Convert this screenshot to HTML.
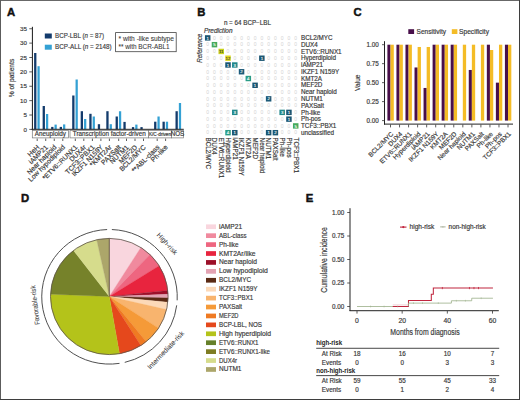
<!DOCTYPE html><html><head><meta charset="utf-8"><style>html,body{margin:0;padding:0;background:#fff;}svg{display:block;font-family:"Liberation Sans",sans-serif;}</style></head><body>
<svg width="520" height="400" viewBox="0 0 520 400">
<rect x="0" y="0" width="520" height="400" fill="#fff"/>
<text x="6.90" y="16.20" font-size="11.3" fill="#111" font-weight="bold" stroke="#111" stroke-width="0.45">A</text>
<text x="197.30" y="16.30" font-size="11.3" fill="#111" font-weight="bold" stroke="#111" stroke-width="0.45">B</text>
<text x="353.60" y="16.40" font-size="11.3" fill="#111" font-weight="bold" stroke="#111" stroke-width="0.45">C</text>
<text x="20.90" y="201.90" font-size="11.3" fill="#111" font-weight="bold" stroke="#111" stroke-width="0.45">D</text>
<text x="305.80" y="202.10" font-size="11.3" fill="#111" font-weight="bold" stroke="#111" stroke-width="0.45">E</text>
<rect x="31.90" y="26.80" width="1.00" height="103.00" fill="#1a1a1a" />
<line x1="29.30" y1="129.40" x2="32.00" y2="129.40" stroke="#333" stroke-width="0.8" />
<text x="27.00" y="131.60" font-size="6.2" fill="#3a3a3a" stroke="#3a3a3a" stroke-width="0.18" text-anchor="end" >0</text>
<line x1="29.30" y1="115.02" x2="32.00" y2="115.02" stroke="#333" stroke-width="0.8" />
<text x="27.00" y="117.22" font-size="6.2" fill="#3a3a3a" stroke="#3a3a3a" stroke-width="0.18" text-anchor="end" >5</text>
<line x1="29.30" y1="100.64" x2="32.00" y2="100.64" stroke="#333" stroke-width="0.8" />
<text x="27.00" y="102.84" font-size="6.2" fill="#3a3a3a" stroke="#3a3a3a" stroke-width="0.18" text-anchor="end" >10</text>
<line x1="29.30" y1="86.26" x2="32.00" y2="86.26" stroke="#333" stroke-width="0.8" />
<text x="27.00" y="88.46" font-size="6.2" fill="#3a3a3a" stroke="#3a3a3a" stroke-width="0.18" text-anchor="end" >15</text>
<line x1="29.30" y1="71.88" x2="32.00" y2="71.88" stroke="#333" stroke-width="0.8" />
<text x="27.00" y="74.08" font-size="6.2" fill="#3a3a3a" stroke="#3a3a3a" stroke-width="0.18" text-anchor="end" >20</text>
<line x1="29.30" y1="57.50" x2="32.00" y2="57.50" stroke="#333" stroke-width="0.8" />
<text x="27.00" y="59.70" font-size="6.2" fill="#3a3a3a" stroke="#3a3a3a" stroke-width="0.18" text-anchor="end" >25</text>
<line x1="29.30" y1="43.12" x2="32.00" y2="43.12" stroke="#333" stroke-width="0.8" />
<text x="27.00" y="45.32" font-size="6.2" fill="#3a3a3a" stroke="#3a3a3a" stroke-width="0.18" text-anchor="end" >30</text>
<line x1="29.30" y1="28.74" x2="32.00" y2="28.74" stroke="#333" stroke-width="0.8" />
<text x="27.00" y="30.94" font-size="6.2" fill="#3a3a3a" stroke="#3a3a3a" stroke-width="0.18" text-anchor="end" >35</text>
<text x="14.10" y="78.00" font-size="8.0" fill="#3a3a3a" stroke="#3a3a3a" stroke-width="0.18" text-anchor="middle" transform="rotate(-90 14.10 78.00)" textLength="38.4" lengthAdjust="spacingAndGlyphs" >% of patients</text>
<rect x="34.10" y="53.00" width="2.30" height="76.30" fill="#133b6c" />
<rect x="37.45" y="66.20" width="2.25" height="63.10" fill="#34a1d4" />
<rect x="42.63" y="106.00" width="2.30" height="23.30" fill="#133b6c" />
<rect x="45.98" y="114.00" width="2.25" height="15.30" fill="#34a1d4" />
<rect x="51.16" y="126.90" width="2.30" height="2.40" fill="#133b6c" />
<rect x="54.51" y="124.60" width="2.25" height="4.70" fill="#34a1d4" />
<rect x="59.69" y="126.90" width="2.30" height="2.40" fill="#133b6c" />
<rect x="63.04" y="124.40" width="2.25" height="4.90" fill="#34a1d4" />
<rect x="72.20" y="95.50" width="2.30" height="33.80" fill="#133b6c" />
<rect x="75.55" y="79.50" width="2.25" height="49.80" fill="#34a1d4" />
<rect x="80.70" y="111.20" width="2.30" height="18.10" fill="#133b6c" />
<rect x="84.05" y="119.00" width="2.25" height="10.30" fill="#34a1d4" />
<rect x="89.30" y="113.80" width="2.30" height="15.50" fill="#133b6c" />
<rect x="92.65" y="116.50" width="2.25" height="12.80" fill="#34a1d4" />
<rect x="97.80" y="124.20" width="2.30" height="5.10" fill="#133b6c" />
<rect x="106.30" y="111.20" width="2.30" height="18.10" fill="#133b6c" />
<rect x="109.65" y="124.20" width="2.25" height="5.10" fill="#34a1d4" />
<rect x="115.60" y="116.50" width="2.30" height="12.80" fill="#133b6c" />
<rect x="118.95" y="111.25" width="2.25" height="18.05" fill="#34a1d4" />
<rect x="123.40" y="121.90" width="2.30" height="7.40" fill="#133b6c" />
<rect x="131.90" y="127.10" width="2.30" height="2.20" fill="#133b6c" />
<rect x="135.25" y="124.60" width="2.25" height="4.70" fill="#34a1d4" />
<rect x="140.40" y="127.10" width="2.30" height="2.20" fill="#133b6c" />
<rect x="154.10" y="121.70" width="2.30" height="7.60" fill="#133b6c" />
<rect x="157.45" y="116.50" width="2.25" height="12.80" fill="#34a1d4" />
<rect x="162.50" y="121.70" width="2.30" height="7.60" fill="#133b6c" />
<rect x="165.85" y="121.70" width="2.25" height="7.60" fill="#34a1d4" />
<rect x="175.50" y="111.20" width="2.30" height="18.10" fill="#133b6c" />
<rect x="178.85" y="103.00" width="2.25" height="26.30" fill="#34a1d4" />
<rect x="31.60" y="128.80" width="152.20" height="1.00" fill="#222" />
<rect x="32.30" y="130.4" width="36.20" height="7.5" fill="#fff" stroke="#777" stroke-width="0.7"/>
<text x="50.40" y="136.42" font-size="6.3" fill="#3a3a3a" stroke="#3a3a3a" stroke-width="0.18" text-anchor="middle" >Aneuploidy</text>
<rect x="70.00" y="130.4" width="78.50" height="7.5" fill="#fff" stroke="#777" stroke-width="0.7"/>
<text x="109.25" y="136.42" font-size="6.3" fill="#3a3a3a" stroke="#3a3a3a" stroke-width="0.18" text-anchor="middle" >Transcription factor-driven</text>
<rect x="148.50" y="130.4" width="23.00" height="7.5" fill="#fff" stroke="#777" stroke-width="0.7"/>
<text x="160.00" y="135.84" font-size="4.7" fill="#3a3a3a" stroke="#3a3a3a" stroke-width="0.18" text-anchor="middle" >K/C-driven</text>
<rect x="171.50" y="130.4" width="12.00" height="7.5" fill="#fff" stroke="#777" stroke-width="0.7"/>
<text x="177.50" y="136.42" font-size="6.3" fill="#3a3a3a" stroke="#3a3a3a" stroke-width="0.18" text-anchor="middle" >NOS</text>
<line x1="37.20" y1="138.60" x2="37.20" y2="141.00" stroke="#333" stroke-width="0.8" />
<text x="39.90" y="147.70" font-size="6.8" fill="#3a3a3a" stroke="#3a3a3a" stroke-width="0.18" text-anchor="end" transform="rotate(-45 39.90 147.70)" >HeH</text>
<line x1="45.73" y1="138.60" x2="45.73" y2="141.00" stroke="#333" stroke-width="0.8" />
<text x="48.43" y="147.70" font-size="6.8" fill="#3a3a3a" stroke="#3a3a3a" stroke-width="0.18" text-anchor="end" transform="rotate(-45 48.43 147.70)" >iAMP21</text>
<line x1="54.26" y1="138.60" x2="54.26" y2="141.00" stroke="#333" stroke-width="0.8" />
<text x="56.96" y="147.70" font-size="6.8" fill="#3a3a3a" stroke="#3a3a3a" stroke-width="0.18" text-anchor="end" transform="rotate(-45 56.96 147.70)" >Near haploid</text>
<line x1="62.79" y1="138.60" x2="62.79" y2="141.00" stroke="#333" stroke-width="0.8" />
<text x="65.49" y="147.70" font-size="6.8" fill="#3a3a3a" stroke="#3a3a3a" stroke-width="0.18" text-anchor="end" transform="rotate(-45 65.49 147.70)" >Low hypodiploid</text>
<line x1="75.30" y1="138.60" x2="75.30" y2="141.00" stroke="#333" stroke-width="0.8" />
<text x="78.00" y="147.70" font-size="6.8" fill="#3a3a3a" stroke="#3a3a3a" stroke-width="0.18" text-anchor="end" transform="rotate(-45 78.00 147.70)" >*ETV6::RUNX1</text>
<line x1="83.80" y1="138.60" x2="83.80" y2="141.00" stroke="#333" stroke-width="0.8" />
<text x="86.50" y="147.70" font-size="6.8" fill="#3a3a3a" stroke="#3a3a3a" stroke-width="0.18" text-anchor="end" transform="rotate(-45 86.50 147.70)" >DUX4r</text>
<line x1="92.40" y1="138.60" x2="92.40" y2="141.00" stroke="#333" stroke-width="0.8" />
<text x="95.10" y="147.70" font-size="6.8" fill="#3a3a3a" stroke="#3a3a3a" stroke-width="0.18" text-anchor="end" transform="rotate(-45 95.10 147.70)" >TCF3::PBX1</text>
<line x1="100.90" y1="138.60" x2="100.90" y2="141.00" stroke="#333" stroke-width="0.8" />
<text x="103.60" y="147.70" font-size="6.8" fill="#3a3a3a" stroke="#3a3a3a" stroke-width="0.18" text-anchor="end" transform="rotate(-45 103.60 147.70)" >IKZF1 N159Y</text>
<line x1="109.40" y1="138.60" x2="109.40" y2="141.00" stroke="#333" stroke-width="0.8" />
<text x="112.10" y="147.70" font-size="6.8" fill="#3a3a3a" stroke="#3a3a3a" stroke-width="0.18" text-anchor="end" transform="rotate(-45 112.10 147.70)" >*KMT2Ar</text>
<line x1="118.70" y1="138.60" x2="118.70" y2="141.00" stroke="#333" stroke-width="0.8" />
<text x="121.40" y="147.70" font-size="6.8" fill="#3a3a3a" stroke="#3a3a3a" stroke-width="0.18" text-anchor="end" transform="rotate(-45 121.40 147.70)" >PAXSalt</text>
<line x1="126.50" y1="138.60" x2="126.50" y2="141.00" stroke="#333" stroke-width="0.8" />
<text x="129.20" y="147.70" font-size="6.8" fill="#3a3a3a" stroke="#3a3a3a" stroke-width="0.18" text-anchor="end" transform="rotate(-45 129.20 147.70)" >NUTM1</text>
<line x1="135.00" y1="138.60" x2="135.00" y2="141.00" stroke="#333" stroke-width="0.8" />
<text x="137.70" y="147.70" font-size="6.8" fill="#3a3a3a" stroke="#3a3a3a" stroke-width="0.18" text-anchor="end" transform="rotate(-45 137.70 147.70)" >MEF2D</text>
<line x1="143.50" y1="138.60" x2="143.50" y2="141.00" stroke="#333" stroke-width="0.8" />
<text x="146.20" y="147.70" font-size="6.8" fill="#3a3a3a" stroke="#3a3a3a" stroke-width="0.18" text-anchor="end" transform="rotate(-45 146.20 147.70)" >BCL2/MYC</text>
<line x1="157.20" y1="138.60" x2="157.20" y2="141.00" stroke="#333" stroke-width="0.8" />
<text x="159.90" y="147.70" font-size="6.8" fill="#3a3a3a" stroke="#3a3a3a" stroke-width="0.18" text-anchor="end" transform="rotate(-45 159.90 147.70)" >**ABL-class</text>
<line x1="165.60" y1="138.60" x2="165.60" y2="141.00" stroke="#333" stroke-width="0.8" />
<text x="168.30" y="147.70" font-size="6.8" fill="#3a3a3a" stroke="#3a3a3a" stroke-width="0.18" text-anchor="end" transform="rotate(-45 168.30 147.70)" >Ph-like</text>
<rect x="44.80" y="33.50" width="7.00" height="5.00" fill="#133b6c" />
<rect x="44.80" y="44.70" width="7.00" height="5.00" fill="#34a1d4" />
<text x="55" y="38.2" font-size="6.6" fill="#3a3a3a" stroke="#3a3a3a" stroke-width="0.15" textLength="49" lengthAdjust="spacingAndGlyphs">BCP-LBL (<tspan font-style="italic">n</tspan> = 87)</text>
<text x="55" y="49.2" font-size="6.6" fill="#3a3a3a" stroke="#3a3a3a" stroke-width="0.15" textLength="56.6" lengthAdjust="spacingAndGlyphs">BCP-ALL (<tspan font-style="italic">n</tspan> = 2148)</text>
<rect x="115.6" y="32.6" width="60.6" height="19.1" fill="#fff" stroke="#444" stroke-width="0.8"/>
<text x="118.50" y="41.00" font-size="6.4" fill="#3a3a3a" stroke="#3a3a3a" stroke-width="0.08" textLength="55.5" lengthAdjust="spacingAndGlyphs" >* with -like subtype</text>
<text x="118.50" y="48.60" font-size="6.3" fill="#3a3a3a" stroke="#3a3a3a" stroke-width="0.08" textLength="51" lengthAdjust="spacingAndGlyphs" >** with BCR-ABL1</text>
<rect x="204.95" y="35.20" width="5.50" height="5.40" fill="#1b5672" />
<text x="207.70" y="39.50" font-size="4.4" fill="#fff" stroke="#fff" stroke-width="0.1" text-anchor="middle" >1</text>
<text x="214.47" y="39.70" font-size="5.0" fill="#d2d2d2" text-anchor="middle" >0</text>
<text x="221.24" y="39.70" font-size="5.0" fill="#d2d2d2" text-anchor="middle" >0</text>
<text x="228.01" y="39.70" font-size="5.0" fill="#d2d2d2" text-anchor="middle" >0</text>
<text x="234.78" y="39.70" font-size="5.0" fill="#d2d2d2" text-anchor="middle" >0</text>
<text x="241.55" y="39.70" font-size="5.0" fill="#d2d2d2" text-anchor="middle" >0</text>
<text x="248.32" y="39.70" font-size="5.0" fill="#d2d2d2" text-anchor="middle" >0</text>
<text x="255.09" y="39.70" font-size="5.0" fill="#d2d2d2" text-anchor="middle" >0</text>
<text x="261.86" y="39.70" font-size="5.0" fill="#d2d2d2" text-anchor="middle" >0</text>
<text x="268.63" y="39.70" font-size="5.0" fill="#d2d2d2" text-anchor="middle" >0</text>
<text x="275.40" y="39.70" font-size="5.0" fill="#d2d2d2" text-anchor="middle" >0</text>
<text x="282.17" y="39.70" font-size="5.0" fill="#d2d2d2" text-anchor="middle" >0</text>
<text x="288.94" y="39.70" font-size="5.0" fill="#d2d2d2" text-anchor="middle" >0</text>
<text x="295.71" y="39.70" font-size="5.0" fill="#d2d2d2" text-anchor="middle" >0</text>
<text x="207.70" y="46.47" font-size="5.0" fill="#d2d2d2" text-anchor="middle" >0</text>
<rect x="211.72" y="41.97" width="5.50" height="5.40" fill="#46aa5c" />
<text x="214.47" y="46.27" font-size="4.4" fill="#fff" stroke="#fff" stroke-width="0.1" text-anchor="middle" >5</text>
<text x="221.24" y="46.47" font-size="5.0" fill="#d2d2d2" text-anchor="middle" >0</text>
<text x="228.01" y="46.47" font-size="5.0" fill="#d2d2d2" text-anchor="middle" >0</text>
<text x="234.78" y="46.47" font-size="5.0" fill="#d2d2d2" text-anchor="middle" >0</text>
<text x="241.55" y="46.47" font-size="5.0" fill="#d2d2d2" text-anchor="middle" >0</text>
<text x="248.32" y="46.47" font-size="5.0" fill="#d2d2d2" text-anchor="middle" >0</text>
<text x="255.09" y="46.47" font-size="5.0" fill="#d2d2d2" text-anchor="middle" >0</text>
<text x="261.86" y="46.47" font-size="5.0" fill="#d2d2d2" text-anchor="middle" >0</text>
<text x="268.63" y="46.47" font-size="5.0" fill="#d2d2d2" text-anchor="middle" >0</text>
<text x="275.40" y="46.47" font-size="5.0" fill="#d2d2d2" text-anchor="middle" >0</text>
<text x="282.17" y="46.47" font-size="5.0" fill="#d2d2d2" text-anchor="middle" >0</text>
<text x="288.94" y="46.47" font-size="5.0" fill="#d2d2d2" text-anchor="middle" >0</text>
<text x="295.71" y="46.47" font-size="5.0" fill="#d2d2d2" text-anchor="middle" >0</text>
<text x="207.70" y="53.24" font-size="5.0" fill="#d2d2d2" text-anchor="middle" >0</text>
<text x="214.47" y="53.24" font-size="5.0" fill="#d2d2d2" text-anchor="middle" >0</text>
<rect x="218.49" y="48.74" width="5.50" height="5.40" fill="#c9d31c" />
<text x="221.24" y="53.04" font-size="4.4" fill="#333" stroke="#333" stroke-width="0.1" text-anchor="middle" >11</text>
<text x="228.01" y="53.24" font-size="5.0" fill="#d2d2d2" text-anchor="middle" >0</text>
<text x="234.78" y="53.24" font-size="5.0" fill="#d2d2d2" text-anchor="middle" >0</text>
<text x="241.55" y="53.24" font-size="5.0" fill="#d2d2d2" text-anchor="middle" >0</text>
<text x="248.32" y="53.24" font-size="5.0" fill="#d2d2d2" text-anchor="middle" >0</text>
<text x="255.09" y="53.24" font-size="5.0" fill="#d2d2d2" text-anchor="middle" >0</text>
<text x="261.86" y="53.24" font-size="5.0" fill="#d2d2d2" text-anchor="middle" >0</text>
<text x="268.63" y="53.24" font-size="5.0" fill="#d2d2d2" text-anchor="middle" >0</text>
<text x="275.40" y="53.24" font-size="5.0" fill="#d2d2d2" text-anchor="middle" >0</text>
<text x="282.17" y="53.24" font-size="5.0" fill="#d2d2d2" text-anchor="middle" >0</text>
<text x="288.94" y="53.24" font-size="5.0" fill="#d2d2d2" text-anchor="middle" >0</text>
<text x="295.71" y="53.24" font-size="5.0" fill="#d2d2d2" text-anchor="middle" >0</text>
<text x="207.70" y="60.01" font-size="5.0" fill="#d2d2d2" text-anchor="middle" >0</text>
<text x="214.47" y="60.01" font-size="5.0" fill="#d2d2d2" text-anchor="middle" >0</text>
<text x="221.24" y="60.01" font-size="5.0" fill="#d2d2d2" text-anchor="middle" >0</text>
<rect x="225.26" y="55.51" width="5.50" height="5.40" fill="#e2d81e" />
<text x="228.01" y="59.81" font-size="4.4" fill="#333" stroke="#333" stroke-width="0.1" text-anchor="middle" >12</text>
<text x="234.78" y="60.01" font-size="5.0" fill="#d2d2d2" text-anchor="middle" >0</text>
<text x="241.55" y="60.01" font-size="5.0" fill="#d2d2d2" text-anchor="middle" >0</text>
<text x="248.32" y="60.01" font-size="5.0" fill="#d2d2d2" text-anchor="middle" >0</text>
<text x="255.09" y="60.01" font-size="5.0" fill="#d2d2d2" text-anchor="middle" >0</text>
<rect x="259.11" y="55.51" width="5.50" height="5.40" fill="#1b5672" />
<text x="261.86" y="59.81" font-size="4.4" fill="#fff" stroke="#fff" stroke-width="0.1" text-anchor="middle" >1</text>
<text x="268.63" y="60.01" font-size="5.0" fill="#d2d2d2" text-anchor="middle" >0</text>
<text x="275.40" y="60.01" font-size="5.0" fill="#d2d2d2" text-anchor="middle" >0</text>
<text x="282.17" y="60.01" font-size="5.0" fill="#d2d2d2" text-anchor="middle" >0</text>
<text x="288.94" y="60.01" font-size="5.0" fill="#d2d2d2" text-anchor="middle" >0</text>
<text x="295.71" y="60.01" font-size="5.0" fill="#d2d2d2" text-anchor="middle" >0</text>
<text x="207.70" y="66.78" font-size="5.0" fill="#d2d2d2" text-anchor="middle" >0</text>
<text x="214.47" y="66.78" font-size="5.0" fill="#d2d2d2" text-anchor="middle" >0</text>
<text x="221.24" y="66.78" font-size="5.0" fill="#d2d2d2" text-anchor="middle" >0</text>
<rect x="225.26" y="62.28" width="5.50" height="5.40" fill="#1b5672" />
<text x="228.01" y="66.58" font-size="4.4" fill="#fff" stroke="#fff" stroke-width="0.1" text-anchor="middle" >1</text>
<rect x="232.03" y="62.28" width="5.50" height="5.40" fill="#22888a" />
<text x="234.78" y="66.58" font-size="4.4" fill="#fff" stroke="#fff" stroke-width="0.1" text-anchor="middle" >3</text>
<text x="241.55" y="66.78" font-size="5.0" fill="#d2d2d2" text-anchor="middle" >0</text>
<text x="248.32" y="66.78" font-size="5.0" fill="#d2d2d2" text-anchor="middle" >0</text>
<text x="255.09" y="66.78" font-size="5.0" fill="#d2d2d2" text-anchor="middle" >0</text>
<text x="261.86" y="66.78" font-size="5.0" fill="#d2d2d2" text-anchor="middle" >0</text>
<text x="268.63" y="66.78" font-size="5.0" fill="#d2d2d2" text-anchor="middle" >0</text>
<text x="275.40" y="66.78" font-size="5.0" fill="#d2d2d2" text-anchor="middle" >0</text>
<text x="282.17" y="66.78" font-size="5.0" fill="#d2d2d2" text-anchor="middle" >0</text>
<text x="288.94" y="66.78" font-size="5.0" fill="#d2d2d2" text-anchor="middle" >0</text>
<text x="295.71" y="66.78" font-size="5.0" fill="#d2d2d2" text-anchor="middle" >0</text>
<text x="207.70" y="73.55" font-size="5.0" fill="#d2d2d2" text-anchor="middle" >0</text>
<text x="214.47" y="73.55" font-size="5.0" fill="#d2d2d2" text-anchor="middle" >0</text>
<text x="221.24" y="73.55" font-size="5.0" fill="#d2d2d2" text-anchor="middle" >0</text>
<text x="228.01" y="73.55" font-size="5.0" fill="#d2d2d2" text-anchor="middle" >0</text>
<text x="234.78" y="73.55" font-size="5.0" fill="#d2d2d2" text-anchor="middle" >0</text>
<rect x="238.80" y="69.05" width="5.50" height="5.40" fill="#1d5a78" />
<text x="241.55" y="73.35" font-size="4.4" fill="#fff" stroke="#fff" stroke-width="0.1" text-anchor="middle" >2</text>
<text x="248.32" y="73.55" font-size="5.0" fill="#d2d2d2" text-anchor="middle" >0</text>
<text x="255.09" y="73.55" font-size="5.0" fill="#d2d2d2" text-anchor="middle" >0</text>
<text x="261.86" y="73.55" font-size="5.0" fill="#d2d2d2" text-anchor="middle" >0</text>
<text x="268.63" y="73.55" font-size="5.0" fill="#d2d2d2" text-anchor="middle" >0</text>
<text x="275.40" y="73.55" font-size="5.0" fill="#d2d2d2" text-anchor="middle" >0</text>
<text x="282.17" y="73.55" font-size="5.0" fill="#d2d2d2" text-anchor="middle" >0</text>
<text x="288.94" y="73.55" font-size="5.0" fill="#d2d2d2" text-anchor="middle" >0</text>
<text x="295.71" y="73.55" font-size="5.0" fill="#d2d2d2" text-anchor="middle" >0</text>
<text x="207.70" y="80.32" font-size="5.0" fill="#d2d2d2" text-anchor="middle" >0</text>
<text x="214.47" y="80.32" font-size="5.0" fill="#d2d2d2" text-anchor="middle" >0</text>
<text x="221.24" y="80.32" font-size="5.0" fill="#d2d2d2" text-anchor="middle" >0</text>
<text x="228.01" y="80.32" font-size="5.0" fill="#d2d2d2" text-anchor="middle" >0</text>
<text x="234.78" y="80.32" font-size="5.0" fill="#d2d2d2" text-anchor="middle" >0</text>
<text x="241.55" y="80.32" font-size="5.0" fill="#d2d2d2" text-anchor="middle" >0</text>
<rect x="245.57" y="75.82" width="5.50" height="5.40" fill="#2a9c86" />
<text x="248.32" y="80.12" font-size="4.4" fill="#fff" stroke="#fff" stroke-width="0.1" text-anchor="middle" >4</text>
<text x="255.09" y="80.32" font-size="5.0" fill="#d2d2d2" text-anchor="middle" >0</text>
<text x="261.86" y="80.32" font-size="5.0" fill="#d2d2d2" text-anchor="middle" >0</text>
<text x="268.63" y="80.32" font-size="5.0" fill="#d2d2d2" text-anchor="middle" >0</text>
<text x="275.40" y="80.32" font-size="5.0" fill="#d2d2d2" text-anchor="middle" >0</text>
<text x="282.17" y="80.32" font-size="5.0" fill="#d2d2d2" text-anchor="middle" >0</text>
<text x="288.94" y="80.32" font-size="5.0" fill="#d2d2d2" text-anchor="middle" >0</text>
<text x="295.71" y="80.32" font-size="5.0" fill="#d2d2d2" text-anchor="middle" >0</text>
<text x="207.70" y="87.09" font-size="5.0" fill="#d2d2d2" text-anchor="middle" >0</text>
<text x="214.47" y="87.09" font-size="5.0" fill="#d2d2d2" text-anchor="middle" >0</text>
<text x="221.24" y="87.09" font-size="5.0" fill="#d2d2d2" text-anchor="middle" >0</text>
<text x="228.01" y="87.09" font-size="5.0" fill="#d2d2d2" text-anchor="middle" >0</text>
<text x="234.78" y="87.09" font-size="5.0" fill="#d2d2d2" text-anchor="middle" >0</text>
<text x="241.55" y="87.09" font-size="5.0" fill="#d2d2d2" text-anchor="middle" >0</text>
<text x="248.32" y="87.09" font-size="5.0" fill="#d2d2d2" text-anchor="middle" >0</text>
<rect x="252.34" y="82.59" width="5.50" height="5.40" fill="#1b5672" />
<text x="255.09" y="86.89" font-size="4.4" fill="#fff" stroke="#fff" stroke-width="0.1" text-anchor="middle" >1</text>
<text x="261.86" y="87.09" font-size="5.0" fill="#d2d2d2" text-anchor="middle" >0</text>
<text x="268.63" y="87.09" font-size="5.0" fill="#d2d2d2" text-anchor="middle" >0</text>
<text x="275.40" y="87.09" font-size="5.0" fill="#d2d2d2" text-anchor="middle" >0</text>
<text x="282.17" y="87.09" font-size="5.0" fill="#d2d2d2" text-anchor="middle" >0</text>
<text x="288.94" y="87.09" font-size="5.0" fill="#d2d2d2" text-anchor="middle" >0</text>
<text x="295.71" y="87.09" font-size="5.0" fill="#d2d2d2" text-anchor="middle" >0</text>
<text x="207.70" y="93.86" font-size="5.0" fill="#d2d2d2" text-anchor="middle" >0</text>
<text x="214.47" y="93.86" font-size="5.0" fill="#d2d2d2" text-anchor="middle" >0</text>
<text x="221.24" y="93.86" font-size="5.0" fill="#d2d2d2" text-anchor="middle" >0</text>
<text x="228.01" y="93.86" font-size="5.0" fill="#d2d2d2" text-anchor="middle" >0</text>
<text x="234.78" y="93.86" font-size="5.0" fill="#d2d2d2" text-anchor="middle" >0</text>
<text x="241.55" y="93.86" font-size="5.0" fill="#d2d2d2" text-anchor="middle" >0</text>
<text x="248.32" y="93.86" font-size="5.0" fill="#d2d2d2" text-anchor="middle" >0</text>
<text x="255.09" y="93.86" font-size="5.0" fill="#d2d2d2" text-anchor="middle" >0</text>
<text x="261.86" y="93.86" font-size="5.0" fill="#d2d2d2" text-anchor="middle" >0</text>
<text x="268.63" y="93.86" font-size="5.0" fill="#d2d2d2" text-anchor="middle" >0</text>
<text x="275.40" y="93.86" font-size="5.0" fill="#d2d2d2" text-anchor="middle" >0</text>
<text x="282.17" y="93.86" font-size="5.0" fill="#d2d2d2" text-anchor="middle" >0</text>
<text x="288.94" y="93.86" font-size="5.0" fill="#d2d2d2" text-anchor="middle" >0</text>
<text x="295.71" y="93.86" font-size="5.0" fill="#d2d2d2" text-anchor="middle" >0</text>
<text x="207.70" y="100.63" font-size="5.0" fill="#d2d2d2" text-anchor="middle" >0</text>
<text x="214.47" y="100.63" font-size="5.0" fill="#d2d2d2" text-anchor="middle" >0</text>
<text x="221.24" y="100.63" font-size="5.0" fill="#d2d2d2" text-anchor="middle" >0</text>
<text x="228.01" y="100.63" font-size="5.0" fill="#d2d2d2" text-anchor="middle" >0</text>
<text x="234.78" y="100.63" font-size="5.0" fill="#d2d2d2" text-anchor="middle" >0</text>
<text x="241.55" y="100.63" font-size="5.0" fill="#d2d2d2" text-anchor="middle" >0</text>
<text x="248.32" y="100.63" font-size="5.0" fill="#d2d2d2" text-anchor="middle" >0</text>
<text x="255.09" y="100.63" font-size="5.0" fill="#d2d2d2" text-anchor="middle" >0</text>
<text x="261.86" y="100.63" font-size="5.0" fill="#d2d2d2" text-anchor="middle" >0</text>
<rect x="265.88" y="96.13" width="5.50" height="5.40" fill="#1d5a78" />
<text x="268.63" y="100.43" font-size="4.4" fill="#fff" stroke="#fff" stroke-width="0.1" text-anchor="middle" >2</text>
<text x="275.40" y="100.63" font-size="5.0" fill="#d2d2d2" text-anchor="middle" >0</text>
<text x="282.17" y="100.63" font-size="5.0" fill="#d2d2d2" text-anchor="middle" >0</text>
<text x="288.94" y="100.63" font-size="5.0" fill="#d2d2d2" text-anchor="middle" >0</text>
<text x="295.71" y="100.63" font-size="5.0" fill="#d2d2d2" text-anchor="middle" >0</text>
<text x="207.70" y="107.40" font-size="5.0" fill="#d2d2d2" text-anchor="middle" >0</text>
<text x="214.47" y="107.40" font-size="5.0" fill="#d2d2d2" text-anchor="middle" >0</text>
<text x="221.24" y="107.40" font-size="5.0" fill="#d2d2d2" text-anchor="middle" >0</text>
<text x="228.01" y="107.40" font-size="5.0" fill="#d2d2d2" text-anchor="middle" >0</text>
<text x="234.78" y="107.40" font-size="5.0" fill="#d2d2d2" text-anchor="middle" >0</text>
<text x="241.55" y="107.40" font-size="5.0" fill="#d2d2d2" text-anchor="middle" >0</text>
<text x="248.32" y="107.40" font-size="5.0" fill="#d2d2d2" text-anchor="middle" >0</text>
<text x="255.09" y="107.40" font-size="5.0" fill="#d2d2d2" text-anchor="middle" >0</text>
<text x="261.86" y="107.40" font-size="5.0" fill="#d2d2d2" text-anchor="middle" >0</text>
<text x="268.63" y="107.40" font-size="5.0" fill="#d2d2d2" text-anchor="middle" >0</text>
<text x="275.40" y="107.40" font-size="5.0" fill="#d2d2d2" text-anchor="middle" >0</text>
<text x="282.17" y="107.40" font-size="5.0" fill="#d2d2d2" text-anchor="middle" >0</text>
<text x="288.94" y="107.40" font-size="5.0" fill="#d2d2d2" text-anchor="middle" >0</text>
<text x="295.71" y="107.40" font-size="5.0" fill="#d2d2d2" text-anchor="middle" >0</text>
<text x="207.70" y="114.17" font-size="5.0" fill="#d2d2d2" text-anchor="middle" >0</text>
<text x="214.47" y="114.17" font-size="5.0" fill="#d2d2d2" text-anchor="middle" >0</text>
<text x="221.24" y="114.17" font-size="5.0" fill="#d2d2d2" text-anchor="middle" >0</text>
<text x="228.01" y="114.17" font-size="5.0" fill="#d2d2d2" text-anchor="middle" >0</text>
<rect x="232.03" y="109.67" width="5.50" height="5.40" fill="#22888a" />
<text x="234.78" y="113.97" font-size="4.4" fill="#fff" stroke="#fff" stroke-width="0.1" text-anchor="middle" >3</text>
<text x="241.55" y="114.17" font-size="5.0" fill="#d2d2d2" text-anchor="middle" >0</text>
<text x="248.32" y="114.17" font-size="5.0" fill="#d2d2d2" text-anchor="middle" >0</text>
<text x="255.09" y="114.17" font-size="5.0" fill="#d2d2d2" text-anchor="middle" >0</text>
<text x="261.86" y="114.17" font-size="5.0" fill="#d2d2d2" text-anchor="middle" >0</text>
<text x="268.63" y="114.17" font-size="5.0" fill="#d2d2d2" text-anchor="middle" >0</text>
<text x="275.40" y="114.17" font-size="5.0" fill="#d2d2d2" text-anchor="middle" >0</text>
<rect x="279.42" y="109.67" width="5.50" height="5.40" fill="#22888a" />
<text x="282.17" y="113.97" font-size="4.4" fill="#fff" stroke="#fff" stroke-width="0.1" text-anchor="middle" >3</text>
<rect x="286.19" y="109.67" width="5.50" height="5.40" fill="#1b5672" />
<text x="288.94" y="113.97" font-size="4.4" fill="#fff" stroke="#fff" stroke-width="0.1" text-anchor="middle" >1</text>
<text x="295.71" y="114.17" font-size="5.0" fill="#d2d2d2" text-anchor="middle" >0</text>
<text x="207.70" y="120.94" font-size="5.0" fill="#d2d2d2" text-anchor="middle" >0</text>
<text x="214.47" y="120.94" font-size="5.0" fill="#d2d2d2" text-anchor="middle" >0</text>
<text x="221.24" y="120.94" font-size="5.0" fill="#d2d2d2" text-anchor="middle" >0</text>
<text x="228.01" y="120.94" font-size="5.0" fill="#d2d2d2" text-anchor="middle" >0</text>
<text x="234.78" y="120.94" font-size="5.0" fill="#d2d2d2" text-anchor="middle" >0</text>
<text x="241.55" y="120.94" font-size="5.0" fill="#d2d2d2" text-anchor="middle" >0</text>
<text x="248.32" y="120.94" font-size="5.0" fill="#d2d2d2" text-anchor="middle" >0</text>
<text x="255.09" y="120.94" font-size="5.0" fill="#d2d2d2" text-anchor="middle" >0</text>
<text x="261.86" y="120.94" font-size="5.0" fill="#d2d2d2" text-anchor="middle" >0</text>
<text x="268.63" y="120.94" font-size="5.0" fill="#d2d2d2" text-anchor="middle" >0</text>
<text x="275.40" y="120.94" font-size="5.0" fill="#d2d2d2" text-anchor="middle" >0</text>
<text x="282.17" y="120.94" font-size="5.0" fill="#d2d2d2" text-anchor="middle" >0</text>
<rect x="286.19" y="116.44" width="5.50" height="5.40" fill="#1b5672" />
<text x="288.94" y="120.74" font-size="4.4" fill="#fff" stroke="#fff" stroke-width="0.1" text-anchor="middle" >1</text>
<text x="295.71" y="120.94" font-size="5.0" fill="#d2d2d2" text-anchor="middle" >0</text>
<text x="207.70" y="127.71" font-size="5.0" fill="#d2d2d2" text-anchor="middle" >0</text>
<text x="214.47" y="127.71" font-size="5.0" fill="#d2d2d2" text-anchor="middle" >0</text>
<text x="221.24" y="127.71" font-size="5.0" fill="#d2d2d2" text-anchor="middle" >0</text>
<text x="228.01" y="127.71" font-size="5.0" fill="#d2d2d2" text-anchor="middle" >0</text>
<text x="234.78" y="127.71" font-size="5.0" fill="#d2d2d2" text-anchor="middle" >0</text>
<text x="241.55" y="127.71" font-size="5.0" fill="#d2d2d2" text-anchor="middle" >0</text>
<text x="248.32" y="127.71" font-size="5.0" fill="#d2d2d2" text-anchor="middle" >0</text>
<text x="255.09" y="127.71" font-size="5.0" fill="#d2d2d2" text-anchor="middle" >0</text>
<text x="261.86" y="127.71" font-size="5.0" fill="#d2d2d2" text-anchor="middle" >0</text>
<text x="268.63" y="127.71" font-size="5.0" fill="#d2d2d2" text-anchor="middle" >0</text>
<text x="275.40" y="127.71" font-size="5.0" fill="#d2d2d2" text-anchor="middle" >0</text>
<text x="282.17" y="127.71" font-size="5.0" fill="#d2d2d2" text-anchor="middle" >0</text>
<text x="288.94" y="127.71" font-size="5.0" fill="#d2d2d2" text-anchor="middle" >0</text>
<rect x="292.96" y="123.21" width="5.50" height="5.40" fill="#46aa5c" />
<text x="295.71" y="127.51" font-size="4.4" fill="#fff" stroke="#fff" stroke-width="0.1" text-anchor="middle" >5</text>
<text x="207.70" y="134.48" font-size="5.0" fill="#d2d2d2" text-anchor="middle" >0</text>
<text x="214.47" y="134.48" font-size="5.0" fill="#d2d2d2" text-anchor="middle" >0</text>
<text x="221.24" y="134.48" font-size="5.0" fill="#d2d2d2" text-anchor="middle" >0</text>
<rect x="225.26" y="129.98" width="5.50" height="5.40" fill="#2a9c86" />
<text x="228.01" y="134.28" font-size="4.4" fill="#fff" stroke="#fff" stroke-width="0.1" text-anchor="middle" >4</text>
<rect x="232.03" y="129.98" width="5.50" height="5.40" fill="#1b5672" />
<text x="234.78" y="134.28" font-size="4.4" fill="#fff" stroke="#fff" stroke-width="0.1" text-anchor="middle" >1</text>
<text x="241.55" y="134.48" font-size="5.0" fill="#d2d2d2" text-anchor="middle" >0</text>
<text x="248.32" y="134.48" font-size="5.0" fill="#d2d2d2" text-anchor="middle" >0</text>
<text x="255.09" y="134.48" font-size="5.0" fill="#d2d2d2" text-anchor="middle" >0</text>
<text x="261.86" y="134.48" font-size="5.0" fill="#d2d2d2" text-anchor="middle" >0</text>
<rect x="265.88" y="129.98" width="5.50" height="5.40" fill="#1b5672" />
<text x="268.63" y="134.28" font-size="4.4" fill="#fff" stroke="#fff" stroke-width="0.1" text-anchor="middle" >1</text>
<rect x="272.65" y="129.98" width="5.50" height="5.40" fill="#1d5a78" />
<text x="275.40" y="134.28" font-size="4.4" fill="#fff" stroke="#fff" stroke-width="0.1" text-anchor="middle" >2</text>
<text x="282.17" y="134.48" font-size="5.0" fill="#d2d2d2" text-anchor="middle" >0</text>
<text x="288.94" y="134.48" font-size="5.0" fill="#d2d2d2" text-anchor="middle" >0</text>
<text x="295.71" y="134.48" font-size="5.0" fill="#d2d2d2" text-anchor="middle" >0</text>
<text x="301.00" y="40.10" font-size="6.3" fill="#3a3a3a" stroke="#3a3a3a" stroke-width="0.18" >BCL2/MYC</text>
<text x="301.00" y="46.87" font-size="6.3" fill="#3a3a3a" stroke="#3a3a3a" stroke-width="0.18" >DUX4</text>
<text x="301.00" y="53.64" font-size="6.3" fill="#3a3a3a" stroke="#3a3a3a" stroke-width="0.18" >ETV6::RUNX1</text>
<text x="301.00" y="60.41" font-size="6.3" fill="#3a3a3a" stroke="#3a3a3a" stroke-width="0.18" >Hyperdiploid</text>
<text x="301.00" y="67.18" font-size="6.3" fill="#3a3a3a" stroke="#3a3a3a" stroke-width="0.18" >iAMP21</text>
<text x="301.00" y="73.95" font-size="6.3" fill="#3a3a3a" stroke="#3a3a3a" stroke-width="0.18" >IKZF1 N159Y</text>
<text x="301.00" y="80.72" font-size="6.3" fill="#3a3a3a" stroke="#3a3a3a" stroke-width="0.18" >KMT2A</text>
<text x="301.00" y="87.49" font-size="6.3" fill="#3a3a3a" stroke="#3a3a3a" stroke-width="0.18" >MEF2D</text>
<text x="301.00" y="94.26" font-size="6.3" fill="#3a3a3a" stroke="#3a3a3a" stroke-width="0.18" >Near haploid</text>
<text x="301.00" y="101.03" font-size="6.3" fill="#3a3a3a" stroke="#3a3a3a" stroke-width="0.18" >NUTM1</text>
<text x="301.00" y="107.80" font-size="6.3" fill="#3a3a3a" stroke="#3a3a3a" stroke-width="0.18" >PAXSalt</text>
<text x="301.00" y="114.57" font-size="6.3" fill="#3a3a3a" stroke="#3a3a3a" stroke-width="0.18" >Ph-like</text>
<text x="301.00" y="121.34" font-size="6.3" fill="#3a3a3a" stroke="#3a3a3a" stroke-width="0.18" >Ph-pos</text>
<text x="301.00" y="128.11" font-size="6.3" fill="#3a3a3a" stroke="#3a3a3a" stroke-width="0.18" >TCF3::PBX1</text>
<text x="301.00" y="134.88" font-size="6.3" fill="#3a3a3a" stroke="#3a3a3a" stroke-width="0.18" >unclassified</text>
<text x="205.50" y="137.60" font-size="6.3" fill="#3a3a3a" stroke="#3a3a3a" stroke-width="0.18" transform="rotate(90 205.50 137.60)" >BCL2/MYC</text>
<text x="212.27" y="137.60" font-size="6.3" fill="#3a3a3a" stroke="#3a3a3a" stroke-width="0.18" transform="rotate(90 212.27 137.60)" >DUX4</text>
<text x="219.04" y="137.60" font-size="6.3" fill="#3a3a3a" stroke="#3a3a3a" stroke-width="0.18" transform="rotate(90 219.04 137.60)" >ETV6::RUNX1</text>
<text x="225.81" y="137.60" font-size="6.3" fill="#3a3a3a" stroke="#3a3a3a" stroke-width="0.18" transform="rotate(90 225.81 137.60)" >Hyperdiploid</text>
<text x="232.58" y="137.60" font-size="6.3" fill="#3a3a3a" stroke="#3a3a3a" stroke-width="0.18" transform="rotate(90 232.58 137.60)" >iAMP21</text>
<text x="239.35" y="137.60" font-size="6.3" fill="#3a3a3a" stroke="#3a3a3a" stroke-width="0.18" transform="rotate(90 239.35 137.60)" >IKZF1 N159Y</text>
<text x="246.12" y="137.60" font-size="6.3" fill="#3a3a3a" stroke="#3a3a3a" stroke-width="0.18" transform="rotate(90 246.12 137.60)" >KMT2A</text>
<text x="252.89" y="137.60" font-size="6.3" fill="#3a3a3a" stroke="#3a3a3a" stroke-width="0.18" transform="rotate(90 252.89 137.60)" >MEF2D</text>
<text x="259.66" y="137.60" font-size="6.3" fill="#3a3a3a" stroke="#3a3a3a" stroke-width="0.18" transform="rotate(90 259.66 137.60)" >Near haploid</text>
<text x="266.43" y="137.60" font-size="6.3" fill="#3a3a3a" stroke="#3a3a3a" stroke-width="0.18" transform="rotate(90 266.43 137.60)" >NUTM1</text>
<text x="273.20" y="137.60" font-size="6.3" fill="#3a3a3a" stroke="#3a3a3a" stroke-width="0.18" transform="rotate(90 273.20 137.60)" >PAXSalt</text>
<text x="279.97" y="137.60" font-size="6.3" fill="#3a3a3a" stroke="#3a3a3a" stroke-width="0.18" transform="rotate(90 279.97 137.60)" >Ph-like</text>
<text x="286.74" y="137.60" font-size="6.3" fill="#3a3a3a" stroke="#3a3a3a" stroke-width="0.18" transform="rotate(90 286.74 137.60)" >Ph-pos</text>
<text x="293.51" y="137.60" font-size="6.3" fill="#3a3a3a" stroke="#3a3a3a" stroke-width="0.18" transform="rotate(90 293.51 137.60)" >TCF3::PBX1</text>
<text x="223.90" y="24.50" font-size="6.4" fill="#3a3a3a" stroke="#3a3a3a" stroke-width="0.18" textLength="47" lengthAdjust="spacingAndGlyphs" >n = 64 BCP−LBL</text>
<text x="203.90" y="32.50" font-size="6.4" fill="#3a3a3a" stroke="#3a3a3a" stroke-width="0.18" font-style="italic" textLength="28.6" lengthAdjust="spacingAndGlyphs" >Prediction</text>
<text x="202.20" y="48.20" font-size="6.3" fill="#3a3a3a" stroke="#3a3a3a" stroke-width="0.18" text-anchor="middle" font-style="italic" transform="rotate(-90 202.20 48.20)" >Reference</text>
<rect x="384.00" y="41.20" width="1.00" height="83.40" fill="#222" />
<rect x="384.00" y="123.60" width="129.00" height="1.00" fill="#222" />
<line x1="382.00" y1="44.70" x2="384.50" y2="44.70" stroke="#333" stroke-width="0.8" />
<text x="378.80" y="46.90" font-size="6.3" fill="#3a3a3a" stroke="#3a3a3a" stroke-width="0.18" text-anchor="end" >1.00</text>
<line x1="382.00" y1="63.67" x2="384.50" y2="63.67" stroke="#333" stroke-width="0.8" />
<text x="378.80" y="65.87" font-size="6.3" fill="#3a3a3a" stroke="#3a3a3a" stroke-width="0.18" text-anchor="end" >0.75</text>
<line x1="382.00" y1="82.65" x2="384.50" y2="82.65" stroke="#333" stroke-width="0.8" />
<text x="378.80" y="84.85" font-size="6.3" fill="#3a3a3a" stroke="#3a3a3a" stroke-width="0.18" text-anchor="end" >0.50</text>
<line x1="382.00" y1="101.62" x2="384.50" y2="101.62" stroke="#333" stroke-width="0.8" />
<text x="378.80" y="103.83" font-size="6.3" fill="#3a3a3a" stroke="#3a3a3a" stroke-width="0.18" text-anchor="end" >0.25</text>
<line x1="382.00" y1="120.60" x2="384.50" y2="120.60" stroke="#333" stroke-width="0.8" />
<text x="378.80" y="122.80" font-size="6.3" fill="#3a3a3a" stroke="#3a3a3a" stroke-width="0.18" text-anchor="end" >0.00</text>
<text x="360.40" y="82.70" font-size="7.5" fill="#3a3a3a" stroke="#3a3a3a" stroke-width="0.18" text-anchor="middle" transform="rotate(-90 360.40 82.70)" textLength="16.4" lengthAdjust="spacingAndGlyphs" >Value</text>
<rect x="387.40" y="44.70" width="3.10" height="75.90" fill="#480f4a" />
<rect x="390.50" y="44.70" width="3.30" height="75.90" fill="#f4bc26" />
<line x1="390.50" y1="124.50" x2="390.50" y2="127.40" stroke="#333" stroke-width="0.8" />
<text x="393.90" y="134.40" font-size="6.5" fill="#3a3a3a" stroke="#3a3a3a" stroke-width="0.18" text-anchor="end" transform="rotate(-45 393.90 134.40)" >BCL2/MYC</text>
<rect x="396.44" y="44.70" width="3.10" height="75.90" fill="#480f4a" />
<rect x="399.54" y="44.70" width="3.30" height="75.90" fill="#f4bc26" />
<line x1="399.54" y1="124.50" x2="399.54" y2="127.40" stroke="#333" stroke-width="0.8" />
<text x="402.94" y="134.40" font-size="6.5" fill="#3a3a3a" stroke="#3a3a3a" stroke-width="0.18" text-anchor="end" transform="rotate(-45 402.94 134.40)" >DUX4</text>
<rect x="405.48" y="44.70" width="3.10" height="75.90" fill="#480f4a" />
<rect x="408.58" y="44.70" width="3.30" height="75.90" fill="#f4bc26" />
<line x1="408.58" y1="124.50" x2="408.58" y2="127.40" stroke="#333" stroke-width="0.8" />
<text x="411.98" y="134.40" font-size="6.5" fill="#3a3a3a" stroke="#3a3a3a" stroke-width="0.18" text-anchor="end" transform="rotate(-45 411.98 134.40)" >ETV6::RUNX1</text>
<rect x="414.52" y="67.47" width="3.10" height="53.13" fill="#480f4a" />
<rect x="417.62" y="46.98" width="3.30" height="73.62" fill="#f4bc26" />
<line x1="417.62" y1="124.50" x2="417.62" y2="127.40" stroke="#333" stroke-width="0.8" />
<text x="421.02" y="134.40" font-size="6.5" fill="#3a3a3a" stroke="#3a3a3a" stroke-width="0.18" text-anchor="end" transform="rotate(-45 421.02 134.40)" >Hyperdiploid</text>
<rect x="423.56" y="87.96" width="3.10" height="32.64" fill="#480f4a" />
<rect x="426.66" y="46.98" width="3.30" height="73.62" fill="#f4bc26" />
<line x1="426.66" y1="124.50" x2="426.66" y2="127.40" stroke="#333" stroke-width="0.8" />
<text x="430.06" y="134.40" font-size="6.5" fill="#3a3a3a" stroke="#3a3a3a" stroke-width="0.18" text-anchor="end" transform="rotate(-45 430.06 134.40)" >iAMP21</text>
<rect x="432.60" y="44.70" width="3.10" height="75.90" fill="#480f4a" />
<rect x="435.70" y="44.70" width="3.30" height="75.90" fill="#f4bc26" />
<line x1="435.70" y1="124.50" x2="435.70" y2="127.40" stroke="#333" stroke-width="0.8" />
<text x="439.10" y="134.40" font-size="6.5" fill="#3a3a3a" stroke="#3a3a3a" stroke-width="0.18" text-anchor="end" transform="rotate(-45 439.10 134.40)" >IKZF1 N159Y</text>
<rect x="441.64" y="44.70" width="3.10" height="75.90" fill="#480f4a" />
<rect x="444.74" y="44.70" width="3.30" height="75.90" fill="#f4bc26" />
<line x1="444.74" y1="124.50" x2="444.74" y2="127.40" stroke="#333" stroke-width="0.8" />
<text x="448.14" y="134.40" font-size="6.5" fill="#3a3a3a" stroke="#3a3a3a" stroke-width="0.18" text-anchor="end" transform="rotate(-45 448.14 134.40)" >KMT2A</text>
<rect x="450.68" y="44.70" width="3.10" height="75.90" fill="#480f4a" />
<rect x="453.78" y="44.70" width="3.30" height="75.90" fill="#f4bc26" />
<line x1="453.78" y1="124.50" x2="453.78" y2="127.40" stroke="#333" stroke-width="0.8" />
<text x="457.18" y="134.40" font-size="6.5" fill="#3a3a3a" stroke="#3a3a3a" stroke-width="0.18" text-anchor="end" transform="rotate(-45 457.18 134.40)" >MEF2D</text>
<rect x="462.82" y="44.70" width="3.30" height="75.90" fill="#f4bc26" />
<line x1="462.82" y1="124.50" x2="462.82" y2="127.40" stroke="#333" stroke-width="0.8" />
<text x="466.22" y="134.40" font-size="6.5" fill="#3a3a3a" stroke="#3a3a3a" stroke-width="0.18" text-anchor="end" transform="rotate(-45 466.22 134.40)" >Near haploid</text>
<rect x="468.76" y="69.97" width="3.10" height="50.63" fill="#480f4a" />
<rect x="471.86" y="44.70" width="3.30" height="75.90" fill="#f4bc26" />
<line x1="471.86" y1="124.50" x2="471.86" y2="127.40" stroke="#333" stroke-width="0.8" />
<text x="475.26" y="134.40" font-size="6.5" fill="#3a3a3a" stroke="#3a3a3a" stroke-width="0.18" text-anchor="end" transform="rotate(-45 475.26 134.40)" >NUTM1</text>
<rect x="480.90" y="44.70" width="3.30" height="75.90" fill="#f4bc26" />
<line x1="480.90" y1="124.50" x2="480.90" y2="127.40" stroke="#333" stroke-width="0.8" />
<text x="484.30" y="134.40" font-size="6.5" fill="#3a3a3a" stroke="#3a3a3a" stroke-width="0.18" text-anchor="end" transform="rotate(-45 484.30 134.40)" >PAXSalt</text>
<rect x="486.84" y="44.70" width="3.10" height="75.90" fill="#480f4a" />
<rect x="489.94" y="50.01" width="3.30" height="70.59" fill="#f4bc26" />
<line x1="489.94" y1="124.50" x2="489.94" y2="127.40" stroke="#333" stroke-width="0.8" />
<text x="493.34" y="134.40" font-size="6.5" fill="#3a3a3a" stroke="#3a3a3a" stroke-width="0.18" text-anchor="end" transform="rotate(-45 493.34 134.40)" >Ph-like</text>
<rect x="495.88" y="82.65" width="3.10" height="37.95" fill="#480f4a" />
<rect x="498.98" y="44.70" width="3.30" height="75.90" fill="#f4bc26" />
<line x1="498.98" y1="124.50" x2="498.98" y2="127.40" stroke="#333" stroke-width="0.8" />
<text x="502.38" y="134.40" font-size="6.5" fill="#3a3a3a" stroke="#3a3a3a" stroke-width="0.18" text-anchor="end" transform="rotate(-45 502.38 134.40)" >Ph-pos</text>
<rect x="504.92" y="44.70" width="3.10" height="75.90" fill="#480f4a" />
<rect x="508.02" y="44.70" width="3.30" height="75.90" fill="#f4bc26" />
<line x1="508.02" y1="124.50" x2="508.02" y2="127.40" stroke="#333" stroke-width="0.8" />
<text x="511.42" y="134.40" font-size="6.5" fill="#3a3a3a" stroke="#3a3a3a" stroke-width="0.18" text-anchor="end" transform="rotate(-45 511.42 134.40)" >TCF3::PBX1</text>
<rect x="408.30" y="29.20" width="5.80" height="4.80" fill="#480f4a" />
<text x="416.60" y="33.90" font-size="6.6" fill="#3a3a3a" stroke="#3a3a3a" stroke-width="0.18" textLength="29.4" lengthAdjust="spacingAndGlyphs" >Sensitivity</text>
<rect x="451.80" y="29.20" width="5.60" height="4.80" fill="#f4bc26" />
<text x="459.00" y="33.90" font-size="6.6" fill="#3a3a3a" stroke="#3a3a3a" stroke-width="0.18" textLength="30.0" lengthAdjust="spacingAndGlyphs" >Specificity</text>
<path d="M109.30,296.50 L109.30,238.40 A58.8,58.1 0 0 1 140.89,247.50 Z" fill="#f9d6de" stroke="#f9d6de" stroke-width="0.3"/>
<path d="M109.30,296.50 L140.89,247.50 A58.8,58.1 0 0 1 150.00,254.57 Z" fill="#f08a9e" stroke="#f08a9e" stroke-width="0.3"/>
<path d="M109.30,296.50 L150.00,254.57 A58.8,58.1 0 0 1 159.17,265.71 Z" fill="#ee6680" stroke="#ee6680" stroke-width="0.3"/>
<path d="M109.30,296.50 L159.17,265.71 A58.8,58.1 0 0 1 167.78,290.43 Z" fill="#e8243e" stroke="#e8243e" stroke-width="0.3"/>
<path d="M109.30,296.50 L167.78,290.43 A58.8,58.1 0 0 1 168.06,294.27 Z" fill="#9c1029" stroke="#9c1029" stroke-width="0.3"/>
<path d="M109.30,296.50 L168.06,294.27 A58.8,58.1 0 0 1 168.08,297.92 Z" fill="#e3a3b3" stroke="#e3a3b3" stroke-width="0.3"/>
<path d="M109.30,296.50 L168.08,297.92 A58.8,58.1 0 0 1 167.82,302.17 Z" fill="#5a2a14" stroke="#5a2a14" stroke-width="0.3"/>
<path d="M109.30,296.50 L167.82,302.17 A58.8,58.1 0 0 1 166.59,309.57 Z" fill="#fcd9b8" stroke="#fcd9b8" stroke-width="0.3"/>
<path d="M109.30,296.50 L166.59,309.57 A58.8,58.1 0 0 1 158.61,328.14 Z" fill="#f8b46e" stroke="#f8b46e" stroke-width="0.3"/>
<path d="M109.30,296.50 L158.61,328.14 A58.8,58.1 0 0 1 146.30,341.65 Z" fill="#f59a38" stroke="#f59a38" stroke-width="0.3"/>
<path d="M109.30,296.50 L146.30,341.65 A58.8,58.1 0 0 1 140.89,345.50 Z" fill="#ef7a22" stroke="#ef7a22" stroke-width="0.3"/>
<path d="M109.30,296.50 L140.89,345.50 A58.8,58.1 0 0 1 119.51,353.72 Z" fill="#e5481c" stroke="#e5481c" stroke-width="0.3"/>
<path d="M109.30,296.50 L119.51,353.72 A58.8,58.1 0 0 1 50.55,294.17 Z" fill="#b4c31a" stroke="#b4c31a" stroke-width="0.3"/>
<path d="M109.30,296.50 L50.55,294.17 A58.8,58.1 0 0 1 73.50,250.41 Z" fill="#76822a" stroke="#76822a" stroke-width="0.3"/>
<path d="M109.30,296.50 L73.50,250.41 A58.8,58.1 0 0 1 96.67,239.76 Z" fill="#d6dc8c" stroke="#d6dc8c" stroke-width="0.3"/>
<path d="M109.30,296.50 L96.67,239.76 A58.8,58.1 0 0 1 109.30,238.40 Z" fill="#aca66a" stroke="#aca66a" stroke-width="0.3"/>
<ellipse cx="109.3" cy="296.5" rx="58.8" ry="58.1" fill="none" stroke="#5a5048" stroke-width="0.8"/>
<line x1="109.30" y1="296.50" x2="109.30" y2="238.40" stroke="#4a3a30" stroke-width="0.7" />
<path d="M111.86,229.54 A67.75,67.3 0 0 1 177.16,300.32" fill="none" stroke="#505050" stroke-width="1.0"/>
<path d="M176.70,305.35 A67.75,67.3 0 0 1 124.74,362.38" fill="none" stroke="#505050" stroke-width="1.0"/>
<path d="M119.51,363.36 A67.75,67.3 0 1 1 107.14,229.54" fill="none" stroke="#505050" stroke-width="1.0"/>
<text x="165.42" y="245.25" font-size="6.8" fill="#3a3a3a" stroke="#3a3a3a" stroke-width="0.05" text-anchor="middle" transform="rotate(47.6 165.42 245.25)" textLength="27" lengthAdjust="spacingAndGlyphs" >High-risk</text>
<text x="167.38" y="351.81" font-size="6.8" fill="#3a3a3a" stroke="#3a3a3a" stroke-width="0.05" text-anchor="middle" transform="rotate(-46.400000000000006 167.38 351.81)" textLength="49.5" lengthAdjust="spacingAndGlyphs" >Intermediate-risk</text>
<text x="37.48" y="304.81" font-size="7.0" fill="#3a3a3a" stroke="#3a3a3a" stroke-width="0.05" text-anchor="middle" transform="rotate(263.4 37.48 304.81)" textLength="39.5" lengthAdjust="spacingAndGlyphs" >Favorable-risk</text>
<rect x="206.00" y="224.40" width="10.00" height="4.70" fill="#f9d6de" />
<text x="219.00" y="228.75" font-size="7.0" fill="#3a3a3a" stroke="#3a3a3a" stroke-width="0.18" textLength="23.1" lengthAdjust="spacingAndGlyphs" >iAMP21</text>
<rect x="206.00" y="233.32" width="10.00" height="4.70" fill="#f08a9e" />
<text x="219.00" y="237.67" font-size="7.0" fill="#3a3a3a" stroke="#3a3a3a" stroke-width="0.18" textLength="27.5" lengthAdjust="spacingAndGlyphs" >ABL-class</text>
<rect x="206.00" y="242.24" width="10.00" height="4.70" fill="#ee6680" />
<text x="219.00" y="246.59" font-size="7.0" fill="#3a3a3a" stroke="#3a3a3a" stroke-width="0.18" textLength="19.5" lengthAdjust="spacingAndGlyphs" >Ph-like</text>
<rect x="206.00" y="251.16" width="10.00" height="4.70" fill="#e8243e" />
<text x="219.00" y="255.51" font-size="7.0" fill="#3a3a3a" stroke="#3a3a3a" stroke-width="0.18" textLength="36.5" lengthAdjust="spacingAndGlyphs" >KMT2Ar/like</text>
<rect x="206.00" y="260.08" width="10.00" height="4.70" fill="#9c1029" />
<text x="219.00" y="264.43" font-size="7.0" fill="#3a3a3a" stroke="#3a3a3a" stroke-width="0.18" textLength="37.9" lengthAdjust="spacingAndGlyphs" >Near haploid</text>
<rect x="206.00" y="269.00" width="10.00" height="4.70" fill="#e3a3b3" />
<text x="219.00" y="273.35" font-size="7.0" fill="#3a3a3a" stroke="#3a3a3a" stroke-width="0.18" textLength="48.9" lengthAdjust="spacingAndGlyphs" >Low hypodiploid</text>
<rect x="206.00" y="277.92" width="10.00" height="4.70" fill="#5a2a14" />
<text x="219.00" y="282.27" font-size="7.0" fill="#3a3a3a" stroke="#3a3a3a" stroke-width="0.18" textLength="32.1" lengthAdjust="spacingAndGlyphs" >BCL2/MYC</text>
<rect x="206.00" y="286.84" width="10.00" height="4.70" fill="#fcd9b8" />
<text x="219.00" y="291.19" font-size="7.0" fill="#3a3a3a" stroke="#3a3a3a" stroke-width="0.18" textLength="38.5" lengthAdjust="spacingAndGlyphs" >IKZF1 N159Y</text>
<rect x="206.00" y="295.76" width="10.00" height="4.70" fill="#f8b46e" />
<text x="219.00" y="300.11" font-size="7.0" fill="#3a3a3a" stroke="#3a3a3a" stroke-width="0.18" textLength="34.1" lengthAdjust="spacingAndGlyphs" >TCF3::PBX1</text>
<rect x="206.00" y="304.68" width="10.00" height="4.70" fill="#f59a38" />
<text x="219.00" y="309.03" font-size="7.0" fill="#3a3a3a" stroke="#3a3a3a" stroke-width="0.18" textLength="23.1" lengthAdjust="spacingAndGlyphs" >PAXSalt</text>
<rect x="206.00" y="313.60" width="10.00" height="4.70" fill="#ef7a22" />
<text x="219.00" y="317.95" font-size="7.0" fill="#3a3a3a" stroke="#3a3a3a" stroke-width="0.18" textLength="19.5" lengthAdjust="spacingAndGlyphs" >MEF2D</text>
<rect x="206.00" y="322.52" width="10.00" height="4.70" fill="#e5481c" />
<text x="219.00" y="326.87" font-size="7.0" fill="#3a3a3a" stroke="#3a3a3a" stroke-width="0.18" textLength="42.9" lengthAdjust="spacingAndGlyphs" >BCP-LBL, NOS</text>
<rect x="206.00" y="331.44" width="10.00" height="4.70" fill="#b4c31a" />
<text x="219.00" y="335.79" font-size="7.0" fill="#3a3a3a" stroke="#3a3a3a" stroke-width="0.18" textLength="52.1" lengthAdjust="spacingAndGlyphs" >High hyperdiploid</text>
<rect x="206.00" y="340.36" width="10.00" height="4.70" fill="#66802a" />
<text x="219.00" y="344.71" font-size="7.0" fill="#3a3a3a" stroke="#3a3a3a" stroke-width="0.18" textLength="39.5" lengthAdjust="spacingAndGlyphs" >ETV6::RUNX1</text>
<rect x="206.00" y="349.28" width="10.00" height="4.70" fill="#7e7c22" />
<text x="219.00" y="353.63" font-size="7.0" fill="#3a3a3a" stroke="#3a3a3a" stroke-width="0.18" textLength="50.9" lengthAdjust="spacingAndGlyphs" >ETV6::RUNX1-like</text>
<rect x="206.00" y="358.20" width="10.00" height="4.70" fill="#d6dc8c" />
<text x="219.00" y="362.55" font-size="7.0" fill="#3a3a3a" stroke="#3a3a3a" stroke-width="0.18" textLength="18.1" lengthAdjust="spacingAndGlyphs" >DUX4r</text>
<rect x="206.00" y="367.12" width="10.00" height="4.70" fill="#aca66a" />
<text x="219.00" y="371.47" font-size="7.0" fill="#3a3a3a" stroke="#3a3a3a" stroke-width="0.18" textLength="22.5" lengthAdjust="spacingAndGlyphs" >NUTM1</text>
<rect x="349.50" y="208.20" width="1.00" height="102.80" fill="#222" />
<rect x="349.50" y="310.20" width="149.30" height="1.00" fill="#222" />
<line x1="347.20" y1="212.50" x2="350.00" y2="212.50" stroke="#333" stroke-width="0.8" />
<text x="344.30" y="214.70" font-size="6.3" fill="#3a3a3a" stroke="#3a3a3a" stroke-width="0.18" text-anchor="end" >1.00</text>
<line x1="347.20" y1="236.00" x2="350.00" y2="236.00" stroke="#333" stroke-width="0.8" />
<text x="344.30" y="238.20" font-size="6.3" fill="#3a3a3a" stroke="#3a3a3a" stroke-width="0.18" text-anchor="end" >0.75</text>
<line x1="347.20" y1="259.50" x2="350.00" y2="259.50" stroke="#333" stroke-width="0.8" />
<text x="344.30" y="261.70" font-size="6.3" fill="#3a3a3a" stroke="#3a3a3a" stroke-width="0.18" text-anchor="end" >0.50</text>
<line x1="347.20" y1="283.00" x2="350.00" y2="283.00" stroke="#333" stroke-width="0.8" />
<text x="344.30" y="285.20" font-size="6.3" fill="#3a3a3a" stroke="#3a3a3a" stroke-width="0.18" text-anchor="end" >0.25</text>
<line x1="347.20" y1="306.50" x2="350.00" y2="306.50" stroke="#333" stroke-width="0.8" />
<text x="344.30" y="308.70" font-size="6.3" fill="#3a3a3a" stroke="#3a3a3a" stroke-width="0.18" text-anchor="end" >0.00</text>
<line x1="357.00" y1="311.00" x2="357.00" y2="313.60" stroke="#333" stroke-width="0.8" />
<text x="357.00" y="322.50" font-size="6.8" fill="#3a3a3a" stroke="#3a3a3a" stroke-width="0.18" text-anchor="middle" >0</text>
<line x1="402.17" y1="311.00" x2="402.17" y2="313.60" stroke="#333" stroke-width="0.8" />
<text x="402.17" y="322.50" font-size="6.8" fill="#3a3a3a" stroke="#3a3a3a" stroke-width="0.18" text-anchor="middle" >20</text>
<line x1="447.33" y1="311.00" x2="447.33" y2="313.60" stroke="#333" stroke-width="0.8" />
<text x="447.33" y="322.50" font-size="6.8" fill="#3a3a3a" stroke="#3a3a3a" stroke-width="0.18" text-anchor="middle" >40</text>
<line x1="492.50" y1="311.00" x2="492.50" y2="313.60" stroke="#333" stroke-width="0.8" />
<text x="492.50" y="322.50" font-size="6.8" fill="#3a3a3a" stroke="#3a3a3a" stroke-width="0.18" text-anchor="middle" >60</text>
<text x="425.00" y="334.70" font-size="8.5" fill="#3a3a3a" stroke="#3a3a3a" stroke-width="0.18" text-anchor="middle" textLength="69.4" lengthAdjust="spacingAndGlyphs" >Months from diagnosis</text>
<text x="327.00" y="260.00" font-size="8.6" fill="#3a3a3a" stroke="#3a3a3a" stroke-width="0.18" text-anchor="middle" transform="rotate(-90 327.00 260.00)" textLength="65.5" lengthAdjust="spacingAndGlyphs" >Cumulative incidence</text>
<line x1="392.79" y1="304.90" x2="408.49" y2="304.90" stroke="#eab0b8" stroke-width="0.6" />
<polyline points="392.79,306.50 408.49,306.50 408.49,300.58 431.30,300.58 431.30,294.19 433.33,294.19 433.33,288.08 492.95,288.08" fill="none" stroke="#c0263e" stroke-width="1.05"/>
<polyline points="357.00,306.50 408.49,306.50 408.49,303.12 451.40,303.12 451.40,300.77 471.72,300.77 471.72,298.23 492.95,298.23" fill="none" stroke="#9aae88" stroke-width="0.8"/>
<line x1="392.79" y1="306.50" x2="408.49" y2="306.50" stroke="#c0263e" stroke-width="1.05" />
<line x1="442.36" y1="286.98" x2="442.36" y2="289.18" stroke="#c0263e" stroke-width="0.8" />
<line x1="469.46" y1="286.98" x2="469.46" y2="289.18" stroke="#c0263e" stroke-width="0.8" />
<line x1="473.98" y1="286.98" x2="473.98" y2="289.18" stroke="#c0263e" stroke-width="0.8" />
<line x1="478.50" y1="286.98" x2="478.50" y2="289.18" stroke="#c0263e" stroke-width="0.8" />
<line x1="370.55" y1="305.60" x2="370.55" y2="307.40" stroke="#9aae88" stroke-width="0.5" />
<line x1="384.10" y1="305.60" x2="384.10" y2="307.40" stroke="#9aae88" stroke-width="0.5" />
<line x1="397.65" y1="305.60" x2="397.65" y2="307.40" stroke="#9aae88" stroke-width="0.5" />
<line x1="413.46" y1="302.22" x2="413.46" y2="304.02" stroke="#9aae88" stroke-width="0.5" />
<line x1="422.49" y1="302.22" x2="422.49" y2="304.02" stroke="#9aae88" stroke-width="0.5" />
<line x1="438.30" y1="302.22" x2="438.30" y2="304.02" stroke="#9aae88" stroke-width="0.5" />
<line x1="456.37" y1="299.87" x2="456.37" y2="301.67" stroke="#9aae88" stroke-width="0.5" />
<line x1="465.40" y1="299.87" x2="465.40" y2="301.67" stroke="#9aae88" stroke-width="0.5" />
<line x1="481.21" y1="297.33" x2="481.21" y2="299.13" stroke="#9aae88" stroke-width="0.5" />
<line x1="400.00" y1="227.10" x2="406.50" y2="227.10" stroke="#c0263e" stroke-width="1.1" />
<circle cx="403.3" cy="227.1" r="1.1" fill="#c0263e"/>
<text x="409.60" y="228.80" font-size="6.6" fill="#3a3a3a" stroke="#3a3a3a" stroke-width="0.18" textLength="24.8" lengthAdjust="spacingAndGlyphs" >high-risk</text>
<line x1="440.20" y1="226.90" x2="445.60" y2="226.90" stroke="#a8b09a" stroke-width="1.0" />
<line x1="442.90" y1="226.00" x2="442.90" y2="227.80" stroke="#a8b09a" stroke-width="0.6" />
<text x="448.60" y="228.80" font-size="6.6" fill="#3a3a3a" stroke="#3a3a3a" stroke-width="0.18" textLength="37.0" lengthAdjust="spacingAndGlyphs" >non-high-risk</text>
<text x="316.20" y="345.20" font-size="6.5" fill="#222" font-weight="bold" textLength="26" lengthAdjust="spacingAndGlyphs" >high-risk</text>
<rect x="316.20" y="347.80" width="183.00" height="0.90" fill="#333" />
<text x="321.80" y="356.00" font-size="6.3" fill="#3a3a3a" stroke="#3a3a3a" stroke-width="0.18" >At Risk</text>
<text x="321.80" y="364.60" font-size="6.3" fill="#3a3a3a" stroke="#3a3a3a" stroke-width="0.18" >Events</text>
<text x="316.20" y="373.00" font-size="6.5" fill="#222" font-weight="bold" textLength="39" lengthAdjust="spacingAndGlyphs" >non-high-risk</text>
<rect x="316.20" y="375.20" width="183.00" height="0.90" fill="#333" />
<text x="321.80" y="383.40" font-size="6.3" fill="#3a3a3a" stroke="#3a3a3a" stroke-width="0.18" >At Risk</text>
<text x="321.80" y="392.00" font-size="6.3" fill="#3a3a3a" stroke="#3a3a3a" stroke-width="0.18" >Events</text>
<text x="357.00" y="356.00" font-size="6.3" fill="#3a3a3a" stroke="#3a3a3a" stroke-width="0.18" text-anchor="middle" >18</text>
<text x="402.17" y="356.00" font-size="6.3" fill="#3a3a3a" stroke="#3a3a3a" stroke-width="0.18" text-anchor="middle" >16</text>
<text x="447.33" y="356.00" font-size="6.3" fill="#3a3a3a" stroke="#3a3a3a" stroke-width="0.18" text-anchor="middle" >10</text>
<text x="492.50" y="356.00" font-size="6.3" fill="#3a3a3a" stroke="#3a3a3a" stroke-width="0.18" text-anchor="middle" >7</text>
<text x="357.00" y="364.60" font-size="6.3" fill="#3a3a3a" stroke="#3a3a3a" stroke-width="0.18" text-anchor="middle" >0</text>
<text x="402.17" y="364.60" font-size="6.3" fill="#3a3a3a" stroke="#3a3a3a" stroke-width="0.18" text-anchor="middle" >0</text>
<text x="447.33" y="364.60" font-size="6.3" fill="#3a3a3a" stroke="#3a3a3a" stroke-width="0.18" text-anchor="middle" >3</text>
<text x="492.50" y="364.60" font-size="6.3" fill="#3a3a3a" stroke="#3a3a3a" stroke-width="0.18" text-anchor="middle" >3</text>
<text x="357.00" y="383.40" font-size="6.3" fill="#3a3a3a" stroke="#3a3a3a" stroke-width="0.18" text-anchor="middle" >59</text>
<text x="402.17" y="383.40" font-size="6.3" fill="#3a3a3a" stroke="#3a3a3a" stroke-width="0.18" text-anchor="middle" >55</text>
<text x="447.33" y="383.40" font-size="6.3" fill="#3a3a3a" stroke="#3a3a3a" stroke-width="0.18" text-anchor="middle" >45</text>
<text x="492.50" y="383.40" font-size="6.3" fill="#3a3a3a" stroke="#3a3a3a" stroke-width="0.18" text-anchor="middle" >33</text>
<text x="357.00" y="392.00" font-size="6.3" fill="#3a3a3a" stroke="#3a3a3a" stroke-width="0.18" text-anchor="middle" >0</text>
<text x="402.17" y="392.00" font-size="6.3" fill="#3a3a3a" stroke="#3a3a3a" stroke-width="0.18" text-anchor="middle" >1</text>
<text x="447.33" y="392.00" font-size="6.3" fill="#3a3a3a" stroke="#3a3a3a" stroke-width="0.18" text-anchor="middle" >2</text>
<text x="492.50" y="392.00" font-size="6.3" fill="#3a3a3a" stroke="#3a3a3a" stroke-width="0.18" text-anchor="middle" >4</text>
<rect x="0.00" y="0.00" width="520.00" height="1.00" fill="#686868" />
<rect x="0.00" y="0.00" width="1.00" height="400.00" fill="#5c5c5c" />
<rect x="519.00" y="0.00" width="1.00" height="400.00" fill="#3e3e3e" />
<rect x="0.00" y="399.00" width="520.00" height="1.00" fill="#3e3e3e" />
</svg></body></html>
